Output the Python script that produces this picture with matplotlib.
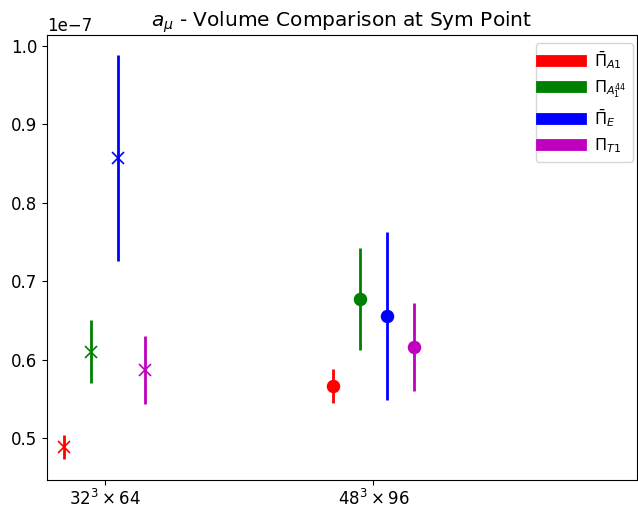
import numpy as np
import matplotlib
matplotlib.use("Agg")
import matplotlib.pyplot as plt
from matplotlib.lines import Line2D

volumes = [r'$32^3 \times 64$', r'$48^3 \times 96$']
labels = [r'$\bar{\Pi}_{A1}$', r'$\Pi_{A_1^{44}}$', r'$\bar{\Pi}_E$', r'$\Pi_{T1}$']
colors = ['r', 'g', 'b', 'm']

# a_mu values (units of 1e-7): rows = channel, cols = volume
vals = np.array([[0.4885, 0.566],
                 [0.610, 0.677],
                 [0.857, 0.656],
                 [0.587, 0.616]])
errs = np.array([[0.0155, 0.022],
                 [0.040, 0.065],
                 [0.131, 0.107],
                 [0.0435, 0.056]])
markers = ['x', 'o']
offsets = [-0.15, -0.05, 0.05, 0.15]

fig = plt.figure(figsize=(6.38, 5.07), dpi=100)
ax = fig.add_axes([47 / 638, 27 / 507, 590 / 638, 445 / 507])

for i in range(len(labels)):
    for j in range(len(volumes)):
        ax.errorbar(j + offsets[i], vals[i, j] * 1e-7, yerr=errs[i, j] * 1e-7,
                    color=colors[i], marker=markers[j],
                    markersize=8 if j == 0 else 8.5,
                    mew=1.2, elinewidth=2, capsize=0, ls='none')

ax.set_xticks(range(len(volumes)))
ax.set_xticklabels(volumes, fontsize=12)
ax.set_xlim(-0.214, 1.98)
ax.set_ylim(0.4464e-7, 1.014e-7)
ax.tick_params(axis='y', labelsize=12)
ax.tick_params(axis='x', pad=3)
ax.yaxis.get_offset_text().set_fontsize(12)
ax.set_title(r'$a_{\mu}$ - Volume Comparison at Sym Point', fontsize=14.5)

handles = [Line2D([0], [0], color=c, lw=8.5) for c in colors]
ax.legend(handles, labels, loc='upper right', fontsize=11.5, handlelength=2.45,
          bbox_to_anchor=(0.993, 0.982), borderaxespad=0, labelspacing=0.45)

fig.savefig('out.png', dpi=100)
